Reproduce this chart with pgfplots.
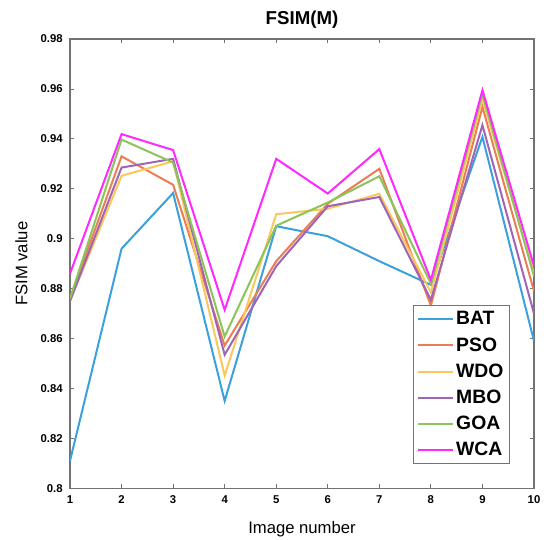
\documentclass[border=0pt]{standalone}
\usepackage{pgfplots}
\pgfplotsset{compat=1.18}
\usepackage{fontspec}
\setmainfont{Liberation Sans}

\definecolor{cbat}{RGB}{60,160,220}
\definecolor{cpso}{RGB}{235,125,85}
\definecolor{cwdo}{RGB}{250,200,90}
\definecolor{cmbo}{RGB}{160,100,180}
\definecolor{cgoa}{RGB}{140,195,90}
\definecolor{cwca}{RGB}{255,40,255}

\begin{document}
\begin{tikzpicture}
\begin{axis}[
name=ax,
scale only axis,
width=348pt, height=337pt,
xmin=1, xmax=10, ymin=0.8, ymax=0.98,
xtick={1,2,...,10},
ytick={0.8,0.82,0.84,0.86,0.88,0.9,0.92,0.94,0.96,0.98},
yticklabels={0.8,0.82,0.84,0.86,0.88,0.9,0.92,0.94,0.96,0.98},
axis line style={draw=gray!90!black, line width=0.8pt},
tick style={draw=gray!90!black, line width=0.6pt},
major tick length=3pt,
tick label style={font=\fontsize{8.5}{10}\bfseries\selectfont},
/pgf/number format/assume math mode=true,
xticklabel style={yshift=-2pt},
yticklabel style={xshift=-2pt},
title={FSIM(M)},
title style={at={(0.5,1)}, anchor=base, yshift=4.5pt, font=\fontsize{14}{16}\bfseries\selectfont},
xlabel={Image number},
xlabel style={at={(0.5,0)}, anchor=base, yshift=-34pt, font=\fontsize{12.5}{14}\selectfont},
ylabel={FSIM value},
ylabel style={at={(0,0.5)}, anchor=base, yshift=32pt, font=\fontsize{12.5}{14}\selectfont},
legend cell align=left,
legend image code/.code={\draw[#1] (0pt,0pt) -- (26pt,0pt);},
legend style={at={(1,0)}, anchor=south east, xshift=-18pt, yshift=18pt,
  draw=gray!90!black, line width=0.8pt, inner sep=2.5pt,
  font=\fontsize{14.5}{19}\bfseries\selectfont, row sep=4pt},
every axis plot/.append style={line width=1.5pt},
]
\addplot[color=cbat] coordinates {(1,0.811) (2,0.896) (3,0.9183) (4,0.835) (5,0.905) (6,0.901) (7,0.891) (8,0.8815) (9,0.9408) (10,0.859)};
\addplot[color=cpso] coordinates {(1,0.876) (2,0.933) (3,0.9216) (4,0.8572) (5,0.891) (6,0.914) (7,0.928) (8,0.8732) (9,0.9528) (10,0.879)};
\addplot[color=cwdo] coordinates {(1,0.875) (2,0.9252) (3,0.931) (4,0.8452) (5,0.9098) (6,0.912) (7,0.918) (8,0.8785) (9,0.956) (10,0.886)};
\addplot[color=cmbo] coordinates {(1,0.875) (2,0.9285) (3,0.932) (4,0.8535) (5,0.889) (6,0.913) (7,0.9167) (8,0.8755) (9,0.9455) (10,0.870)};
\addplot[color=cgoa] coordinates {(1,0.876) (2,0.9397) (3,0.9305) (4,0.8608) (5,0.9052) (6,0.9145) (7,0.925) (8,0.882) (9,0.958) (10,0.885)};
\addplot[color=cwca] coordinates {(1,0.886) (2,0.9419) (3,0.9355) (4,0.8715) (5,0.932) (6,0.9181) (7,0.9359) (8,0.8835) (9,0.9595) (10,0.889)};
\legend{BAT,PSO,WDO,MBO,GOA,WCA}
\end{axis}
\pgfresetboundingbox
\path ([xshift=-52.5pt,yshift=-38.25pt]ax.south west) rectangle ([xshift=7.5pt,yshift=29.25pt]ax.north east);
\end{tikzpicture}
\end{document}
